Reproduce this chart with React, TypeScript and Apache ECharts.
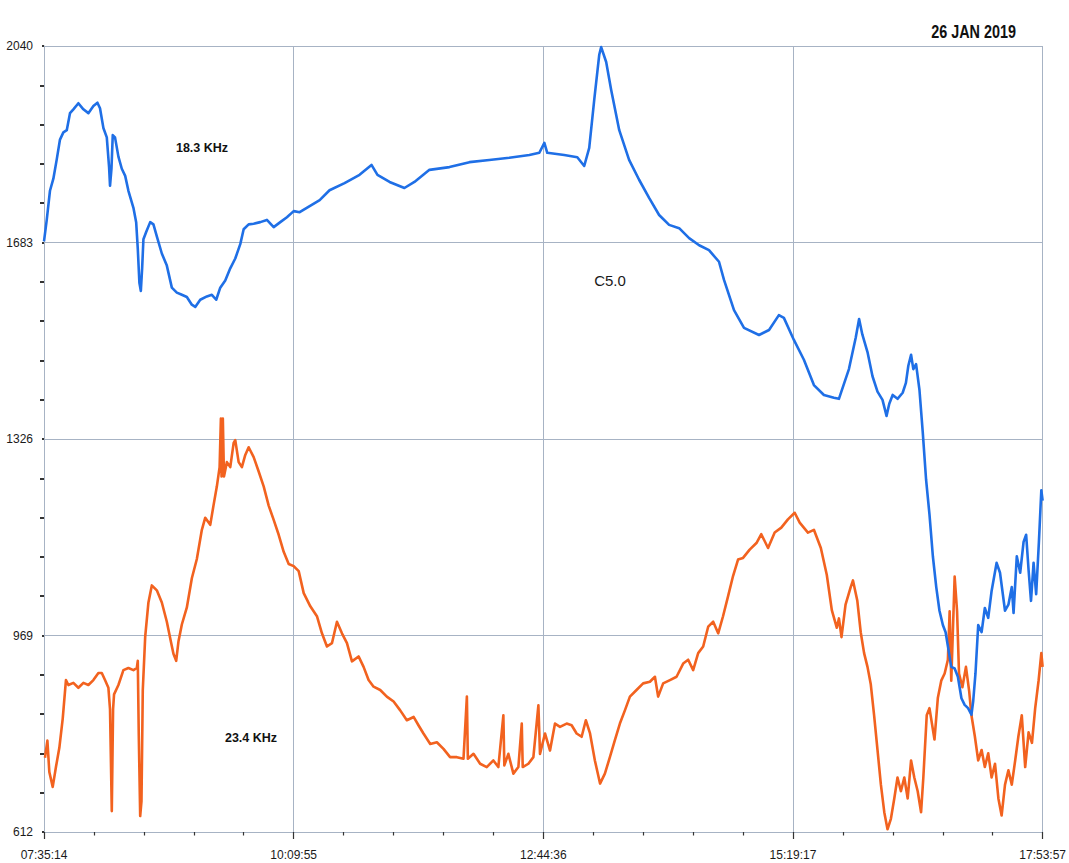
import React, { useEffect, useRef } from 'react';
import * as echarts from 'echarts';

// VLF receiver log, 26 Jan 2019. Time is in minutes after the first sample.
const xTickLabels = ['07:35:14', '10:09:55', '12:44:36', '15:19:17', '17:53:57'];
const SPAN_MIN = 37123 / 60; // 07:35:14 -> 17:53:57
const yTickValues = [612, 969, 1326, 1683, 2040];
const Y_BASE = 612; // lowest value on the signal axis

const dateStamp = '26 JAN 2019';
const label18k = '18.3 KHz';
const label23k = '23.4 KHz';
const flareLabel = 'C5.0';

// 18.3 kHz signal level: [minutes, level]
const signal18k: [number, number][] = [
  [0, 1685], [1.7, 1724], [3.7, 1777], [5.8, 1799], [7.9, 1834], [9.9, 1870], [12, 1883], [14.1, 1887],
  [16.1, 1918], [18.2, 1925], [21.3, 1936], [24.4, 1925], [27.5, 1918], [30.6, 1931], [33.1, 1937],
  [34.7, 1927], [36.8, 1891], [38.9, 1874], [40.3, 1821], [40.9, 1786], [41.8, 1817], [42.6, 1878],
  [44, 1874], [46.1, 1839], [48.2, 1817], [50.3, 1804], [52.3, 1777], [55.4, 1746], [57.1, 1720],
  [58.1, 1672], [59.1, 1610], [60, 1595], [60.8, 1636], [61.6, 1689], [63.3, 1702], [65.8, 1720],
  [67.8, 1716], [69.9, 1694], [73, 1663], [76.1, 1641], [79.2, 1601], [82.3, 1592], [85.4, 1588],
  [88.5, 1584], [91.6, 1570], [93.7, 1566], [96.8, 1579], [100.9, 1585], [104, 1588], [106.7, 1579],
  [109.2, 1601], [112.3, 1614], [115.4, 1636], [118.5, 1654], [121.6, 1680], [123.7, 1707],
  [126.8, 1716], [129.9, 1717], [134, 1720], [138.1, 1724], [142.3, 1711], [146.4, 1720],
  [150.5, 1729], [154.7, 1740], [158.4, 1738], [170.8, 1760], [176.9, 1778], [186.2, 1791],
  [195.5, 1806], [202.9, 1824], [206.6, 1806], [214.1, 1793], [223.3, 1782], [229.5, 1793],
  [238.8, 1815], [251.2, 1820], [263.6, 1829], [275.9, 1833], [288.3, 1837], [300.7, 1842],
  [306.9, 1846], [310, 1864], [311.8, 1846], [322.3, 1842], [330.4, 1838], [334.7, 1822],
  [337.8, 1855], [340.9, 1942], [344, 2024], [345.2, 2038], [348.3, 2011], [351.4, 1960],
  [356.4, 1887], [362.5, 1833], [368.7, 1797], [374.9, 1764], [381.1, 1733], [387.3, 1715],
  [393.5, 1709], [399.7, 1691], [405.9, 1678], [412, 1669], [418.2, 1648], [421.3, 1615],
  [427.5, 1560], [433.7, 1528], [443, 1515], [449.2, 1524], [455.3, 1551], [458.4, 1546],
  [464.6, 1506], [470.8, 1470], [477, 1424], [483.2, 1406], [489.4, 1401], [492.5, 1399],
  [498.7, 1453], [502.9, 1510], [505, 1544], [507, 1516], [510.2, 1484], [513.3, 1440],
  [516.4, 1412], [519.5, 1397], [522, 1368], [523.7, 1390], [525.8, 1406], [528.8, 1399],
  [532, 1410], [534, 1428], [535.5, 1459], [537.2, 1479], [538.6, 1453], [540.3, 1462],
  [542.4, 1415], [544.4, 1340], [546.5, 1252], [548.6, 1189], [550.7, 1113], [552.8, 1057],
  [554.8, 1014], [556.9, 988], [558.6, 975], [560, 950], [562.1, 912], [564.2, 909], [566.2, 894],
  [568.4, 855], [570.4, 843], [572.5, 837], [574.6, 825], [575.7, 850], [577.1, 900], [578.8, 988],
  [580.9, 975], [582.9, 1019], [585, 1001], [587.1, 1050], [590.2, 1101], [592.3, 1083],
  [595.4, 1014], [597.5, 1025], [599.6, 1057], [600.7, 1010], [602.7, 1113], [604.8, 1083],
  [606.9, 1139], [608.5, 1152], [610, 1088], [611.5, 1032], [613.1, 1101], [614.7, 1044],
  [616.4, 1139], [617.9, 1233], [618.7, 1214],
];

// 23.4 kHz signal level: [minutes, level]
const signal23k: [number, number][] = [
  [0.6, 747], [2.1, 778], [3.3, 721], [5.4, 694], [7.4, 730], [9.5, 765], [11.6, 818], [13.6, 888],
  [15.1, 879], [18.2, 883], [21.3, 874], [24.4, 883], [27.5, 879], [30.6, 888], [33.7, 901],
  [35.8, 901], [37.8, 888], [39.9, 874], [40.9, 835], [42, 650], [42.8, 835], [43.4, 862],
  [46.1, 879], [49.2, 906], [52.3, 910], [55.4, 906], [57.5, 910], [58.1, 923], [58.7, 791],
  [59.6, 641], [60.4, 668], [61.2, 870], [62.7, 967], [64.7, 1029], [66.8, 1060], [69.9, 1051],
  [73, 1029], [76.1, 994], [78.6, 958], [80.2, 936], [81.9, 923], [83.3, 958], [85.4, 989],
  [88.5, 1020], [91.6, 1073], [94.7, 1108], [97.8, 1161], [99.9, 1183], [103, 1170], [105, 1205],
  [107.1, 1240], [108.8, 1275], [109.6, 1363], [110, 1258], [110.8, 1363], [111.5, 1258],
  [113.3, 1284], [115.4, 1275], [117.5, 1319], [118.5, 1324], [120.6, 1284], [122.6, 1275],
  [124.7, 1297], [126.8, 1311], [129.9, 1293], [133, 1267], [136.1, 1240], [139.2, 1205],
  [142.3, 1179], [145.4, 1152], [148.5, 1121], [151.6, 1099], [154.7, 1095], [157.8, 1086],
  [160.9, 1046], [165, 1022], [169.1, 1004], [172.2, 973], [175.3, 949], [178.4, 955], [181.5, 994],
  [184.6, 973], [187.7, 955], [190.8, 922], [194.9, 931], [198, 912], [201.1, 888], [204.2, 876],
  [208.3, 870], [212.4, 858], [216.6, 849], [220.7, 833], [224.8, 815], [229, 821], [232, 806],
  [235.1, 791], [239.3, 772], [243.4, 775], [247.5, 763], [251.6, 748], [255.8, 748], [259.9, 745],
  [262, 858], [262.6, 745], [266.1, 754], [270.2, 736], [274.3, 730], [278.4, 742], [281.5, 730],
  [284.6, 824], [285.2, 733], [287.7, 754], [290.8, 718], [293.9, 730], [296, 809], [296.6, 730],
  [300.1, 736], [303.2, 748], [306.3, 842], [307.3, 754], [310.4, 791], [313.5, 760], [316.6, 809],
  [319.7, 803], [323.8, 809], [326.9, 806], [330, 791], [333.1, 785], [335.7, 815], [338.3, 791],
  [341.3, 742], [344.5, 700], [347.5, 718], [350.6, 748], [353.7, 779], [356.8, 809], [359.9, 833],
  [363, 858], [367.1, 870], [371.2, 882], [375.4, 885], [378.5, 894], [380.5, 858], [383.6, 882],
  [387.8, 888], [391.9, 894], [396, 918], [399.1, 925], [402.2, 906], [405.3, 937], [408.4, 949],
  [411.5, 985], [414.6, 994], [417.7, 973], [420.7, 1004], [423.8, 1040], [426.9, 1077],
  [430, 1107], [433.1, 1110], [437.2, 1125], [441.4, 1137], [444.4, 1153], [448.6, 1128],
  [452.7, 1156], [456.8, 1165], [460.9, 1180], [465.1, 1192], [468.2, 1174], [473.3, 1156],
  [477, 1161], [481.3, 1128], [485, 1079], [488.1, 1015], [491.2, 983], [492.5, 1000], [494.1, 966],
  [496.6, 1025], [499.8, 1057], [501.2, 1069], [503.9, 1032], [506, 975], [508.1, 937], [510.2, 912],
  [512.2, 881], [514.3, 824], [516.4, 761], [518.5, 698], [520.6, 648], [522.6, 617], [524.7, 636],
  [526.8, 673], [528.8, 711], [530.9, 686], [533, 711], [535.1, 673], [537.2, 742], [539.2, 711],
  [541.3, 686], [543.4, 648], [544.8, 711], [546.9, 824], [548.6, 837], [551.7, 780], [553.8, 856],
  [555.9, 887], [558, 900], [560, 925], [561.1, 1013], [562.1, 887], [564.2, 1076], [565.7, 1013],
  [566.9, 900], [569, 875], [571.2, 912], [573.2, 868], [574.6, 824], [576.7, 786], [578.8, 742],
  [580.9, 761], [582.9, 730], [585, 755], [587.1, 711], [589.2, 736], [591.3, 673], [593.3, 642],
  [595.4, 698], [597.5, 724], [599.6, 698], [601.7, 742], [603.7, 786], [605.8, 824], [607.9, 730],
  [610, 793], [612.1, 774], [614.1, 837], [616.2, 887], [617.9, 937], [618.7, 912],
];

const BLUE = '#1f6fe6';
const ORANGE = '#f2621f';
const GRID_COLOR = '#a7b3c4';
const TICK_COLOR = '#333333';
const TEXT_COLOR = '#1a1a1a';
const FONT = '"Liberation Sans", Arial, sans-serif';

export default function App() {
  const ref = useRef<HTMLDivElement>(null);

  useEffect(() => {
    if (!ref.current) return;
    const chart = echarts.init(ref.current, undefined, { renderer: 'svg' });

    const xInterval = SPAN_MIN / 4;
    const yInterval = yTickValues[1] - yTickValues[0];
    const yMax = yTickValues[yTickValues.length - 1] - Y_BASE;

    const toPlot = (pts: [number, number][]) => pts.map(([t, v]) => [t, v - Y_BASE]);

    const tickAxisCommon = {
      axisLine: { show: false },
      axisLabel: { show: false },
      splitLine: { show: false },
    };

    chart.setOption({
      animation: false,
      backgroundColor: '#ffffff',
      grid: { left: 44, right: 25, top: 46, bottom: 31, containLabel: false },
      xAxis: [
        {
          type: 'value',
          min: 0,
          max: SPAN_MIN,
          interval: xInterval,
          axisLine: { show: true, lineStyle: { color: GRID_COLOR, width: 1 } },
          axisTick: { show: false },
          axisLabel: {
            margin: 17,
            color: TEXT_COLOR,
            fontSize: 12,
            fontFamily: FONT,
            formatter: (v: number) => xTickLabels[Math.round(v / xInterval)] ?? '',
          },
          splitLine: { show: true, lineStyle: { color: GRID_COLOR, width: 1 } },
        },
        {
          type: 'value',
          position: 'bottom',
          offset: 4,
          min: 0,
          max: SPAN_MIN,
          interval: xInterval,
          ...tickAxisCommon,
          axisTick: { show: true, length: 7, lineStyle: { color: TICK_COLOR, width: 1.2 } },
          minorTick: { show: true, splitNumber: 5, length: 3.5, lineStyle: { color: TICK_COLOR, width: 1.2 } },
        },
      ],
      yAxis: [
        {
          type: 'value',
          min: 0,
          max: yMax,
          interval: yInterval,
          axisLine: { show: true, lineStyle: { color: GRID_COLOR, width: 1 } },
          axisTick: { show: false },
          axisLabel: {
            margin: 11,
            color: TEXT_COLOR,
            fontSize: 12,
            fontFamily: FONT,
            formatter: (v: number) => String(Math.round(v + Y_BASE)),
          },
          splitLine: { show: true, lineStyle: { color: GRID_COLOR, width: 1 } },
        },
        {
          type: 'value',
          position: 'left',
          offset: 4,
          min: 0,
          max: yMax,
          interval: yInterval,
          ...tickAxisCommon,
          axisTick: { show: true, length: 2, lineStyle: { color: TICK_COLOR, width: 2 } },
          minorTick: { show: true, splitNumber: 5, length: 4, lineStyle: { color: TICK_COLOR, width: 2 } },
        },
      ],
      series: [
        {
          name: label23k,
          type: 'line',
          xAxisIndex: 0,
          yAxisIndex: 0,
          data: toPlot(signal23k),
          showSymbol: false,
          symbol: 'none',
          lineStyle: { color: ORANGE, width: 2.6, join: 'round' },
          z: 2,
        },
        {
          name: label18k,
          type: 'line',
          xAxisIndex: 0,
          yAxisIndex: 0,
          data: toPlot(signal18k),
          showSymbol: false,
          symbol: 'none',
          lineStyle: { color: BLUE, width: 2.6, join: 'round' },
          z: 3,
        },
      ],
      graphic: [
        {
          type: 'text',
          x: 1016,
          y: 31,
          scaleX: 0.8,
          style: {
            text: dateStamp,
            fill: '#111111',
            font: 'bold 18px "Liberation Sans", Arial, sans-serif',
            textAlign: 'right',
            textVerticalAlign: 'middle',
          },
        },
        {
          type: 'text',
          x: 202,
          y: 148,
          style: {
            text: label18k,
            fill: '#111111',
            font: `bold 12.5px ${FONT}`,
            textAlign: 'center',
            textVerticalAlign: 'middle',
          },
        },
        {
          type: 'text',
          x: 251,
          y: 738,
          style: {
            text: label23k,
            fill: '#111111',
            font: `bold 12.5px ${FONT}`,
            textAlign: 'center',
            textVerticalAlign: 'middle',
          },
        },
        {
          type: 'text',
          x: 610,
          y: 280,
          style: {
            text: flareLabel,
            fill: '#1a1a1a',
            font: `15px ${FONT}`,
            textAlign: 'center',
            textVerticalAlign: 'middle',
          },
        },
      ],
    });

    return () => chart.dispose();
  }, []);

  return (
    <div
      ref={ref}
      style={{ position: 'fixed', left: 0, top: 0, width: 1069, height: 863, background: '#ffffff' }}
    />
  );
}
